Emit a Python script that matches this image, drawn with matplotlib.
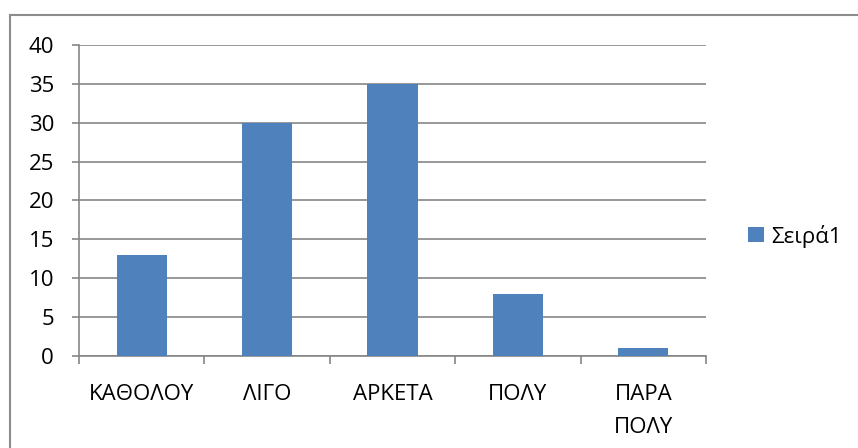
import matplotlib.pyplot as plt
from matplotlib.patches import Rectangle

categories = ['ΚΑΘΟΛΟΥ', 'ΛΙΓΟ', 'ΑΡΚΕΤΑ', 'ΠΟΛΥ', 'ΠΑΡΑ\nΠΟΛΥ']
values = [13, 30, 35, 8, 1]
series_name = 'Σειρά1'

plt.rcParams['font.family'] = ['Open Sans', 'DejaVu Sans']

W, H = 858, 448
fig = plt.figure(figsize=(W / 100, H / 100), dpi=100)

# outer chart border (runs off the right and bottom edge)
fig.patches.append(Rectangle((10 / W, -0.05), 1.0, (H - 15) / H + 0.05,
                             transform=fig.transFigure, fill=False,
                             edgecolor='#8c8c8c', linewidth=1.5))

ax = fig.add_axes([79 / W, (H - 356) / H, (706 - 79) / W, (356 - 45) / H])
x = range(len(categories))
ax.bar(x, values, width=0.4, color='#4f81bd', label=series_name, zorder=3)

ax.set_xlim(-0.5, len(categories) - 0.5)
ax.set_ylim(0, 40)
ax.set_yticks(range(0, 41, 5))
ax.yaxis.grid(True, color='#868686', linewidth=1.2, zorder=0)

ax.set_xticks([i - 0.5 for i in range(len(categories) + 1)], minor=False)
ax.set_xticklabels([])
ax.set_xticks(list(x), minor=True)
ax.set_xticklabels(categories, minor=True, linespacing=1.75)
ax.tick_params(axis='x', which='minor', length=0, pad=20, labelsize=16)
ax.tick_params(axis='x', which='major', length=6, width=1.2, color='#868686')
ax.tick_params(axis='y', length=5, width=1.2, color='#868686', labelsize=16, pad=13)

for side in ['top', 'right']:
    ax.spines[side].set_visible(False)
for side in ['left', 'bottom']:
    ax.spines[side].set_color('#868686')
    ax.spines[side].set_linewidth(1.2)

fig.legend(loc='center left', bbox_to_anchor=(748 / W, (H - 236) / H),
           frameon=False, fontsize=16, borderpad=0, borderaxespad=0,
           handlelength=0.7, handleheight=0.7, handletextpad=0.35)

fig.savefig('out.png', dpi=100)
